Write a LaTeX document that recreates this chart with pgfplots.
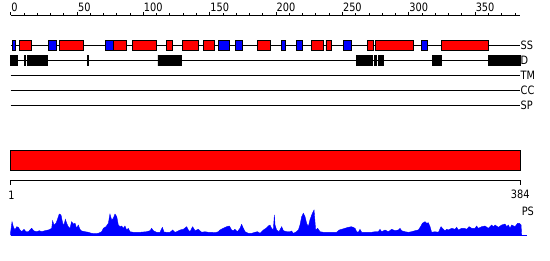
\documentclass[border=0pt]{standalone}
\usepackage{pgfplots}
\pgfplotsset{compat=1.18}
\usepackage{fontspec}
\setmainfont{DejaVu Sans}[FakeStretch=0.85]
\tikzset{lab/.style={font=\fontsize{11.5}{12}\selectfont, inner sep=0pt}}
\begin{document}
\begin{tikzpicture}
\begin{axis}[
  scale only axis, width=550pt, height=260pt,
  xmin=-8.063, xmax=406.41, ymin=0, ymax=260, y dir=reverse,
  axis line style={draw=none}, xtick=\empty, ytick=\empty,
  clip=false, unbounded coords=jump,
  every axis plot/.append style={line width=0.9pt, mark=none},
]
% ---------- top scale ----------
\addplot[black] coordinates {(0,15) (384,15)};
\addplot[black] table {
x y
0 11.5
0 15
nan nan
10 13
10 15
nan nan
20 13
20 15
nan nan
30 13
30 15
nan nan
40 13
40 15
nan nan
50 11.5
50 15
nan nan
60 13
60 15
nan nan
70 13
70 15
nan nan
80 13
80 15
nan nan
90 13
90 15
nan nan
100 11.5
100 15
nan nan
110 13
110 15
nan nan
120 13
120 15
nan nan
130 13
130 15
nan nan
140 13
140 15
nan nan
150 11.5
150 15
nan nan
160 13
160 15
nan nan
170 13
170 15
nan nan
180 13
180 15
nan nan
190 13
190 15
nan nan
200 11.5
200 15
nan nan
210 13
210 15
nan nan
220 13
220 15
nan nan
230 13
230 15
nan nan
240 13
240 15
nan nan
250 11.5
250 15
nan nan
260 13
260 15
nan nan
270 13
270 15
nan nan
280 13
280 15
nan nan
290 13
290 15
nan nan
300 11.5
300 15
nan nan
310 13
310 15
nan nan
320 13
320 15
nan nan
330 13
330 15
nan nan
340 13
340 15
nan nan
350 11.5
350 15
nan nan
360 13
360 15
nan nan
370 13
370 15
nan nan
380 13
380 15
};
\node[lab, anchor=base west] at (axis cs:0.3,11) {0};
\node[lab, anchor=base west] at (axis cs:50.6,11) {50};
\node[lab, anchor=base west] at (axis cs:100.3,11) {100};
\node[lab, anchor=base west] at (axis cs:150.3,11) {150};
\node[lab, anchor=base west] at (axis cs:200.3,11) {200};
\node[lab, anchor=base west] at (axis cs:250.3,11) {250};
\node[lab, anchor=base west] at (axis cs:300.3,11) {300};
\node[lab, anchor=base west] at (axis cs:350.3,11) {350};
% ---------- SS row ----------
\addplot[black] coordinates {(0,45.3) (384,45.3)};
\addplot[fill=blue, draw=black] table {
x y
1 40
3.8 40
3.8 50.7
1 50.7
1 40
nan nan
28.3 40
34.7 40
34.7 50.7
28.3 50.7
28.3 40
nan nan
71.3 40
77.8 40
77.8 50.7
71.3 50.7
71.3 40
nan nan
156.4 40
165 40
165 50.7
156.4 50.7
156.4 40
nan nan
169.3 40
174.8 40
174.8 50.7
169.3 50.7
169.3 40
nan nan
204.2 40
206.7 40
206.7 50.7
204.2 50.7
204.2 40
nan nan
215 40
220 40
220 50.7
215 50.7
215 40
nan nan
250.6 40
257 40
257 50.7
250.6 50.7
250.6 40
nan nan
309.4 40
314.2 40
314.2 50.7
309.4 50.7
309.4 40
};
\addplot[fill=red, draw=black] table {
x y
6.5 40
15.8 40
15.8 50.7
6.5 50.7
6.5 40
nan nan
36.6 40
54.7 40
54.7 50.7
36.6 50.7
36.6 40
nan nan
77.8 40
87.4 40
87.4 50.7
77.8 50.7
77.8 40
nan nan
91.6 40
110 40
110 50.7
91.6 50.7
91.6 40
nan nan
117.3 40
121.8 40
121.8 50.7
117.3 50.7
117.3 40
nan nan
129.3 40
141.7 40
141.7 50.7
129.3 50.7
129.3 40
nan nan
145.1 40
153.4 40
153.4 50.7
145.1 50.7
145.1 40
nan nan
185.8 40
195.6 40
195.6 50.7
185.8 50.7
185.8 40
nan nan
227 40
235.9 40
235.9 50.7
227 50.7
227 40
nan nan
237.6 40
241.9 40
241.9 50.7
237.6 50.7
237.6 40
nan nan
268.5 40
273.5 40
273.5 50.7
268.5 50.7
268.5 40
nan nan
274.8 40
303.7 40
303.7 50.7
274.8 50.7
274.8 40
nan nan
324.5 40
360.2 40
360.2 50.7
324.5 50.7
324.5 40
};
% ---------- D row ----------
\addplot[black] coordinates {(0,60.5) (384,60.5)};
\addplot[fill=black, draw=black] table {
x y
-0.3 55.2
5.3 55.2
5.3 65.8
-0.3 65.8
-0.3 55.2
nan nan
10.3 55.2
11.1 55.2
11.1 65.8
10.3 65.8
10.3 55.2
nan nan
12.3 55.2
27.9 55.2
27.9 65.8
12.3 65.8
12.3 55.2
nan nan
57.8 55.2
58.6 55.2
58.6 65.8
57.8 65.8
57.8 55.2
nan nan
111 55.2
114.8 55.2
114.8 65.8
111 65.8
111 55.2
nan nan
115.6 55.2
128.9 55.2
128.9 65.8
115.6 65.8
115.6 55.2
nan nan
260.9 55.2
272.8 55.2
272.8 65.8
260.9 65.8
260.9 55.2
nan nan
274.1 55.2
275.3 55.2
275.3 65.8
274.1 65.8
274.1 55.2
nan nan
277 55.2
281 55.2
281 65.8
277 65.8
277 55.2
nan nan
317.5 55.2
324.8 55.2
324.8 65.8
317.5 65.8
317.5 55.2
nan nan
360.2 55.2
384 55.2
384 65.8
360.2 65.8
360.2 55.2
};
% ---------- TM, CC, SP ----------
\addplot[black] coordinates {(0,75) (384,75)};
\addplot[black] coordinates {(0,90) (384,90)};
\addplot[black] coordinates {(0,105) (384,105)};
\node[lab, anchor=west] at (axis cs:384.2,45.3) {SS};
\node[lab, anchor=west] at (axis cs:384.2,60.5) {D};
\node[lab, anchor=west] at (axis cs:384.2,75) {TM};
\node[lab, anchor=west] at (axis cs:384.2,90) {CC};
\node[lab, anchor=west] at (axis cs:384.2,105) {SP};
% ---------- red bar ----------
\addplot[fill=red, draw=black] coordinates {(-0.3,150) (384.3,150) (384.3,170.6) (-0.3,170.6) (-0.3,150)};
% ---------- bottom scale ----------
\addplot[black] coordinates {(0,180) (384,180)};
\addplot[black] coordinates {(0,180) (0,185) (nan,nan) (384,180) (384,185)};
\node[lab, anchor=base] at (axis cs:0.6,199) {1};
\node[lab, anchor=base] at (axis cs:384,198.3) {384};
\node[lab, anchor=base west] at (axis cs:385,215) {PS};
% ---------- PS profile ----------
\addplot[fill=blue, draw=blue, line width=0.4pt] table {
x y
0 235
0.0 231.7
1.0 221.7
2.0 226.7
3.2 230
4.5 226.7
5.8 227.3
7.0 230
8.3 231.7
10.0 229.3
11.5 231.7
13.3 231.7
15.8 228.3
17.6 231
19.6 231.7
21.6 230.7
23.3 231.7
25.8 230.7
28.4 230
29.6 229.3
30.9 228.3
31.6 220.7
32.6 225
34.1 223.3
35.1 220
36.6 214
37.9 215
39.2 223.3
40.2 225
41.2 219.3
42.2 223.3
43.4 226.7
44.7 228.3
45.9 221.7
47.2 224
48.5 223.3
49.7 228.3
50.9 225
52.2 229.3
53.5 231
56.0 231.7
58.5 232.3
61.0 233.3
63.5 233.7
66.0 233.3
68.6 231.7
69.8 228.3
71.8 226.7
73.6 223.3
74.8 214
76.1 220
77.3 218.3
78.6 214
79.9 216.7
81.1 225
82.4 226.7
83.6 226
84.9 228.3
86.1 226
87.4 230
88.6 228.3
89.9 231.7
92.4 232.3
94.9 232.3
97.4 232.3
99.9 232
102.5 231.7
105.0 230.7
106.2 228.3
107.5 230.7
110.0 232.3
112.5 232.3
114.3 227.3
115.5 232
117.5 232.3
120.0 232.3
122.1 230
123.8 232.3
125.1 231.7
127.6 230
130.1 229.3
132.6 226.7
133.9 230
135.1 231.7
137.1 226.7
138.9 230.7
141.4 229.3
143.9 232.3
146.4 231.7
148.9 232.3
151.4 232.3
153.9 232.7
156.5 231.7
157.7 230
160.2 228.3
162.7 226.7
164.8 226
166.5 230
167.8 230.7
169.0 229.3
170.8 231.7
172.8 228.3
174.0 224.3
175.3 228.3
176.6 231.7
179.1 233.3
181.6 233.3
184.1 232.3
185.9 231.7
187.9 233.3
190.4 230
192.4 228.3
194.1 226
195.4 225
196.6 228.3
197.9 230
198.7 215
199.2 225
200.4 230
202.2 231.7
204.2 226.7
205.5 230.7
208.0 231.7
210.5 231.7
211.7 231
213.0 233.3
214.7 232.3
216.8 230
218.0 225
219.3 216.7
220.5 213.3
221.8 216.7
223.0 223.3
224.3 226.7
225.5 220
227.3 213.3
228.6 210
229.8 230
231.3 228.3
233.1 231.7
235.6 232.3
239.4 232.3
241.9 232.3
245.6 232.3
247.6 230
249.4 229.3
251.9 228.3
254.4 227.3
256.9 226.7
259.5 228.3
260.7 231.7
262.0 232.3
263.2 229.3
264.5 232.3
267.0 232.3
269.5 232.3
272.0 232.3
274.5 231.7
277.0 231.7
278.3 229.3
279.5 231.7
282.1 230
284.6 231.7
287.1 229.3
289.6 230.7
292.1 230
293.4 228.3
294.6 230.7
297.1 231.7
299.6 232.3
302.2 231.7
304.7 230.7
307.2 230
308.9 226.7
310.2 223.3
312.2 221.7
313.5 223.3
314.7 222.7
316.0 226.7
317.2 232.3
319.7 231.7
322.3 232.3
324.3 226.7
326.0 229.3
327.3 230.7
328.5 229.3
329.8 230
332.3 228.3
334.8 229.3
336.1 227.3
337.3 230
339.8 228.3
341.8 228.3
343.6 229.3
345.4 226.7
347.4 228.3
349.9 228.3
351.1 226
352.4 228.3
354.9 226.7
357.4 226
359.9 228.3
362.4 225
363.7 226.7
365.0 225
367.5 227.3
370.0 225
372.5 224
373.8 226.7
375.0 225
376.3 228.3
377.5 225
380.0 226.7
382.0 223.3
383.3 223.3
384.6 225
385.0 235
} -- cycle;
\addplot[blue, line width=0.9pt] coordinates {(0,235) (388.8,235)};
\end{axis}
\end{tikzpicture}
\end{document}
